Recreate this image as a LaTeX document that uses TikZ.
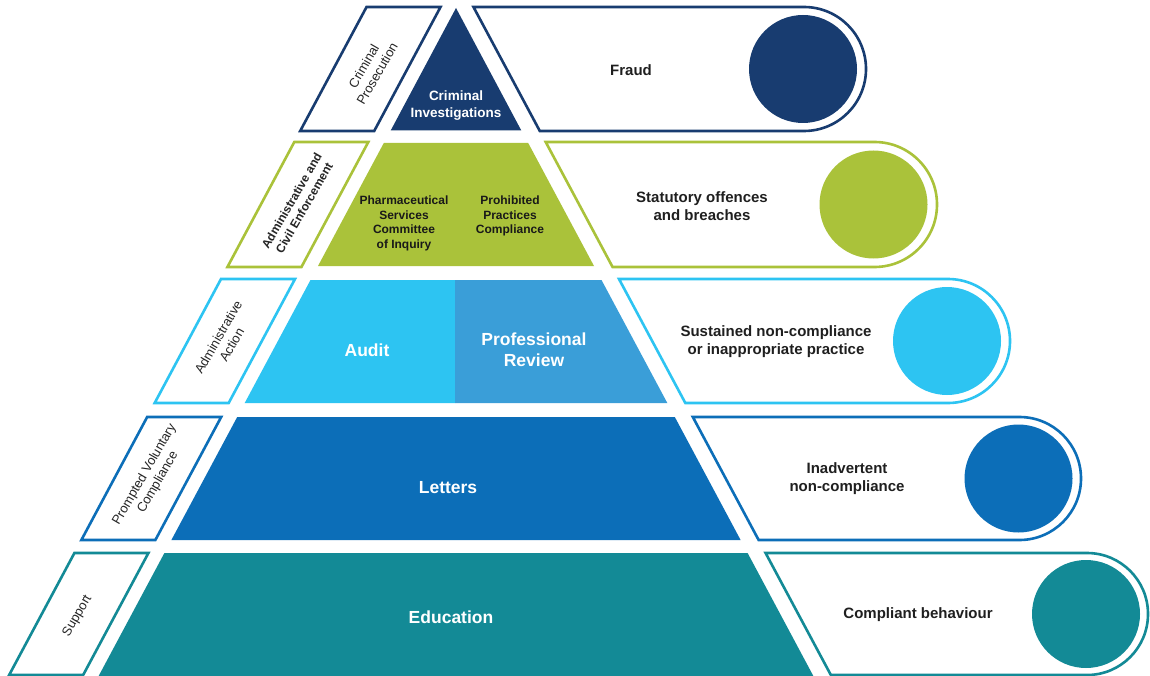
\documentclass[tikz,border=0pt]{standalone}
\usepackage{fontspec}
\setmainfont{Liberation Sans}
\definecolor{cNavy}{RGB}{24,60,112}
\definecolor{cOlive}{RGB}{170,194,58}
\definecolor{cCyan}{RGB}{45,196,242}
\definecolor{cProf}{RGB}{58,158,216}
\definecolor{cBlue}{RGB}{12,110,184}
\definecolor{cTeal}{RGB}{19,138,150}
\tikzset{
  outl/.style={draw=#1, line width=2.6pt, fill=white, line join=miter},
  lbl/.style={font=\fontsize{13}{15.5}\selectfont, align=center, rotate=60, text=black!85, inner sep=0pt},
  rtxt/.style={font=\fontsize{15}{18}\selectfont\bfseries, align=center, text=black!88, inner sep=0pt},
  ptxt/.style={font=\fontsize{17.5}{21}\selectfont\bfseries, align=center, text=white, inner sep=0pt},
  stxt/.style={font=\fontsize{12}{14.5}\selectfont\bfseries, align=center, text=black!90, inner sep=0pt}
}
\begin{document}
\begin{tikzpicture}[x=1pt,y=-1pt]
\useasboundingbox (0,0) rectangle (1150,676);
\fill[white] (0,0) rectangle (1150,676);
% side shapes
\foreach \yt/\yb/\re/\c in {7/131/866/cNavy, 142/267/937/cOlive, 279/403/1010/cCyan, 417/540/1081/cBlue, 553/675/1148/cTeal}{
  \pgfmathsetmacro\pa{456-0.535*(\yt-8)-16}
  \pgfmathsetmacro\pb{456-0.535*(\yb-8)-16}
  \pgfmathsetmacro\ra{456+0.535*(\yt-8)+18}
  \pgfmathsetmacro\rb{456+0.535*(\yb-8)+18}
  \pgfmathsetmacro\rr{(\yb-\yt)/2}
  \pgfmathsetmacro\rm{(\yb+\yt)/2}
  \pgfmathsetmacro\rc{\re-\rr}
  \draw[outl=\c] (\pa-74,\yt) -- (\pa,\yt) -- (\pb,\yb) -- (\pb-74,\yb) -- cycle;
  \draw[outl=\c] (\ra,\yt) -- (\rc,\yt) arc[start angle=-90, end angle=90, radius=\rr] -- (\rb,\yb) -- cycle;
  \fill[\c] (\rc-1,\rm) circle[radius=54];
}
% pyramid
\fill[cNavy] (456,8) -- (390.7,130.5) -- (521.3,130.5) -- cycle;
\fill[cOlive] (383.8,143) -- (528.2,143) -- (594.0,266) -- (318.0,266) -- cycle;
\fill[cCyan] (310.5,280) -- (455,280) -- (455,403) -- (244.7,403) -- cycle;
\fill[cProf] (455,280) -- (601.5,280) -- (667.3,403) -- (455,403) -- cycle;
\fill[cBlue] (237.2,417) -- (674.8,417) -- (740.6,540) -- (171.4,540) -- cycle;
\fill[cTeal] (164.4,553) -- (747.6,553) -- (815.5,680) -- (96.5,680) -- cycle;
% pyramid texts
\node[ptxt, font=\fontsize{13.5}{17}\selectfont\bfseries] (ci) at (456,106) {Criminal\\Investigations};
\node[stxt, anchor=north] (ps) at (404,196) {Pharmaceutical\\Services\\Committee\\of Inquiry};
\node[stxt, anchor=north] (pp) at (510,196) {Prohibited\\Practices\\Compliance};
\node[ptxt] (au) at (367,350) {Audit};
\node[ptxt] (pr) at (534,349.5) {Professional\\Review};
\node[ptxt] (le) at (448,488) {Letters};
\node[ptxt] (ed) at (451,617) {Education};
% left labels
\node[lbl] (l1) at (370.4,70) {Criminal\\Prosecution};
\node[lbl, font=\fontsize{12}{14.5}\selectfont\bfseries] (l2) at (297.9,204.5) {Administrative and\\Civil Enforcement};
\node[lbl] (l3) at (224.9,341) {Administrative\\Action};
\node[lbl] (l4) at (151.3,478.5) {Prompted Voluntary\\Compliance};
\node[lbl] (l5) at (77.5,616) {Support};
% right texts
\node[rtxt] (r1) at (631,70) {Fraud};
\node[rtxt] (r2) at (702,206) {Statutory offences\\and breaches};
\node[rtxt] (r3) at (776,342) {Sustained non-compliance\\or inappropriate practice};
\node[rtxt] (r4) at (847,479) {Inadvertent\\non-compliance};
\node[rtxt] (r5) at (918,615) {Compliant behaviour};
\end{tikzpicture}
\end{document}
